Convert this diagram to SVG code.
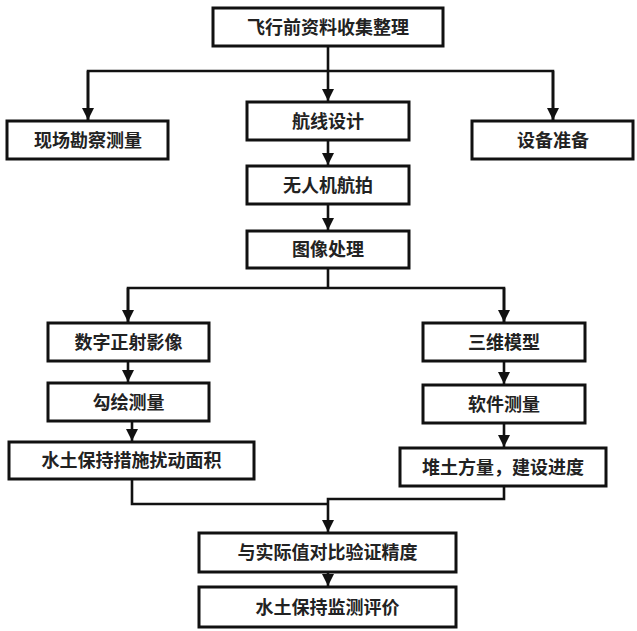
<svg xmlns="http://www.w3.org/2000/svg" width="637" height="631" viewBox="0 0 637 631">
<defs>
<style>
.box{fill:#fff;stroke:#111;stroke-width:3}
.lbl{font-family:"Noto Sans CJK SC","Noto Sans",sans-serif;font-size:18px;font-weight:bold;fill:#222;text-anchor:middle}
.ln{fill:none;stroke:#111;stroke-width:2.6}
</style>
<marker id="ah" markerUnits="userSpaceOnUse" markerWidth="12" markerHeight="12" refX="12" refY="6" orient="auto">
<path d="M0,0 L12,6 L0,12 z" fill="#111"/>
</marker>
</defs>
<rect width="637" height="631" fill="#fff"/>
<g id="connectors">
<path class="ln" d="M328,46 V101" marker-end="url(#ah)"/>
<path class="ln" d="M88,120 V71 H553 V120" />
<path class="ln" d="M88,71 V120" marker-end="url(#ah)"/>
<path class="ln" d="M553,71 V120" marker-end="url(#ah)"/>
<path class="ln" d="M328,140 V165" marker-end="url(#ah)"/>
<path class="ln" d="M328,204 V230" marker-end="url(#ah)"/>
<path class="ln" d="M328,268 V288 M128,322 V288 H504 V322"/>
<path class="ln" d="M128,288 V322" marker-end="url(#ah)"/>
<path class="ln" d="M504,288 V322" marker-end="url(#ah)"/>
<path class="ln" d="M128,361 V382" marker-end="url(#ah)"/>
<path class="ln" d="M132,421 V441" marker-end="url(#ah)"/>
<path class="ln" d="M504,361 V384" marker-end="url(#ah)"/>
<path class="ln" d="M504,423 V447" marker-end="url(#ah)"/>
<path class="ln" d="M132,479 V504 H329"/>
<path class="ln" d="M504,486 V499 H328 V532" marker-end="url(#ah)"/>
<path class="ln" d="M328,572 V586" marker-end="url(#ah)"/>
</g>
<g id="n1"><rect class="box" x="213" y="8" width="230" height="38"/><text class="lbl" x="328" y="33.5">飞行前资料收集整理</text></g>
<g id="n2"><rect class="box" x="7" y="121" width="161" height="38"/><text class="lbl" x="88" y="146.5">现场勘察测量</text></g>
<g id="n3"><rect class="box" x="247" y="102" width="162" height="38"/><text class="lbl" x="328" y="127.5">航线设计</text></g>
<g id="n4"><rect class="box" x="472" y="121" width="161" height="38"/><text class="lbl" x="553" y="146.5">设备准备</text></g>
<g id="n5"><rect class="box" x="247" y="166" width="162" height="38"/><text class="lbl" x="328" y="191.5">无人机航拍</text></g>
<g id="n6"><rect class="box" x="247" y="231" width="162" height="37"/><text class="lbl" x="328" y="256">图像处理</text></g>
<g id="n7"><rect class="box" x="48" y="323" width="161" height="38"/><text class="lbl" x="128.5" y="348.5">数字正射影像</text></g>
<g id="n8"><rect class="box" x="423" y="323" width="162" height="38"/><text class="lbl" x="504" y="348.5">三维模型</text></g>
<g id="n9"><rect class="box" x="48" y="383" width="161" height="38"/><text class="lbl" x="128.5" y="408.5">勾绘测量</text></g>
<g id="n10"><rect class="box" x="423" y="385" width="162" height="38"/><text class="lbl" x="504" y="410.5">软件测量</text></g>
<g id="n11"><rect class="box" x="9" y="442" width="245" height="37"/><text class="lbl" x="131.5" y="467">水土保持措施扰动面积</text></g>
<g id="n12"><rect class="box" x="400" y="448" width="206" height="38"/><text class="lbl" x="503" y="473.5">堆土方量，建设进度</text></g>
<g id="n13"><rect class="box" x="199" y="533" width="257" height="39"/><text class="lbl" x="327.5" y="559">与实际值对比验证精度</text></g>
<g id="n14"><rect class="box" x="199" y="587" width="257" height="40"/><text class="lbl" x="327.5" y="613.5">水土保持监测评价</text></g>
</svg>
